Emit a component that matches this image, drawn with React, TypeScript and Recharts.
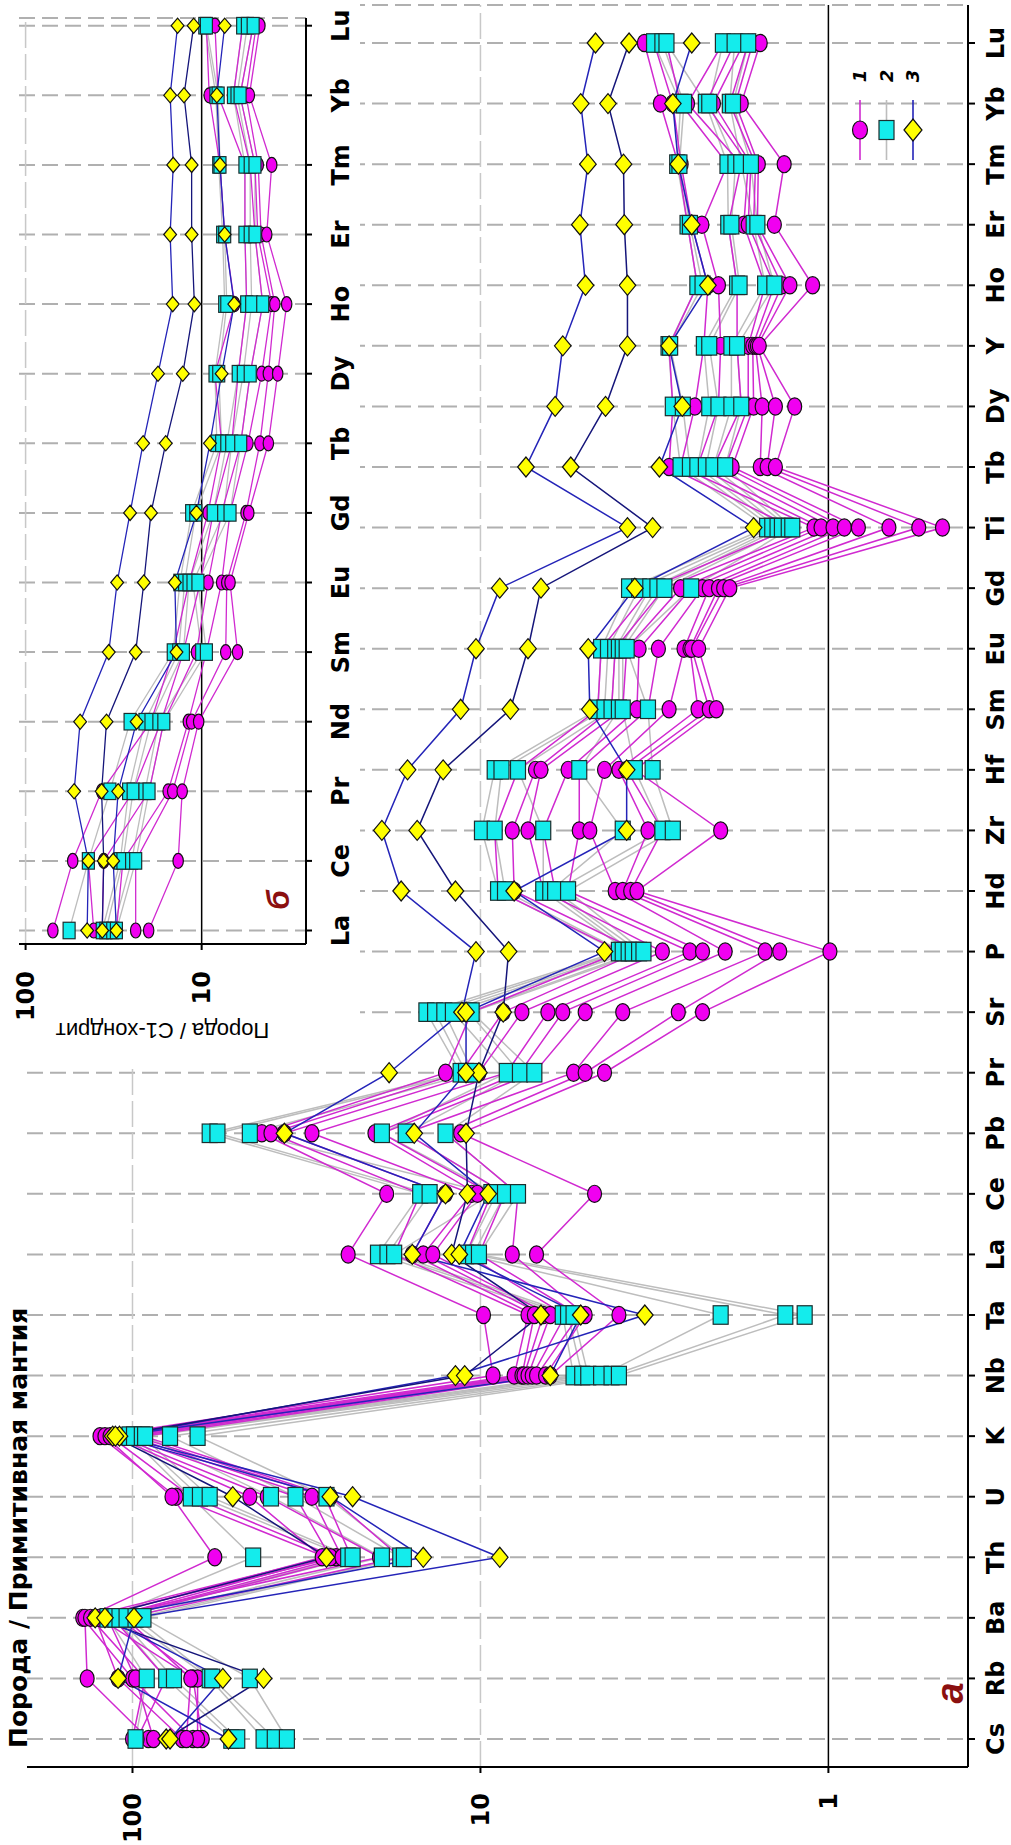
import React from 'react';
import { LineChart, Line, XAxis, YAxis, CartesianGrid, ReferenceLine, Legend } from 'recharts';

const FONT = '"DejaVu Sans", Verdana, sans-serif';
const FONT_PLAIN = '"Liberation Sans", Arial, Helvetica, sans-serif';

const mainElements = ['Cs','Rb','Ba','Th','U','K','Nb','Ta','La','Ce','Pb','Pr','Sr','P','Hd','Zr','Hf','Sm','Eu','Gd','Ti','Tb','Dy','Y','Ho','Er','Tm','Yb','Lu'];
const insetElements = ['La','Ce','Pr','Nd','Sm','Eu','Gd','Tb','Dy','Ho','Er','Tm','Yb','Lu'];
const mainValueTicks = [1, 10, 100];
const insetValueTicks = [10, 100];
const legendLabels = ['1', '2', '3'];

// group 1 (circles), primitive mantle normalized
const mainGroup1: number[][] = [
  [67, 100, 139, 27.7, 75, 124, 9.2, 9.8, 24, 18.6, 42.5, 12.6, 10.6, 3.95, 8.9, 9.1, 7.8, 4.6, 4.5, 3.25, 1.27, 2.87, 2.8, 2.87, 2.38, 2.54, 2.7, 3.04, 3.38],
  [90, 135, 137, 58, 77, 120, 8.0, 7.3, 17.7, 14.9, 40, 11.4, 8.6, 3.5, 8.0, 8.1, 6.95, 4.2, 4.1, 2.96, 1.1, 2.66, 2.42, 2.28, 2.22, 2.47, 2.65, 2.8, 3.17],
  [100, 92, 132, 26, 68, 116, 7.6, 7.0, 15.7, 12.6, 36.6, 10.1, 7.6, 3.0, 6.6, 7.3, 6.7, 3.9, 3.8, 2.66, 1.05, 2.38, 2.07, 2.04, 2.07, 2.31, 1.95, 2.66, 2.92],
  [72, 110, 128, 28.5, 46, 113, 7.5, 6.6, 14.6, 10.6, 30.5, 8.4, 6.4, 2.5, 6.1, 6.6, 5.6, 3.55, 3.5, 2.48, 0.97, 2.14, 1.78, 1.83, 1.83, 1.94, 1.78, 2.54, 2.01],
  [63, 67, 125, 19.5, 41, 110, 7.3, 6.3, 13.7, 10.2, 20.1, 7.7, 5.8, 2.3, 5.6, 5.2, 5.2, 3.3, 3.08, 2.3, 0.9, 1.98, 1.7, 1.7, 1.52, 1.75, 1.7, 2.25, 1.86],
  [87, 98, 118, 27, 34, 106, 7.1, 5.7, 11, 9.3, 19.2, 7.0, 5.0, 1.98, 4.1, 4.85, 4.4, 2.87, 2.6, 2.2, 0.82, 1.89, 1.64, 1.65, 1.43, 1.7, 1.67, 2.14, 1.75],
  [97, 80, 114, 25, 30.5, 102, 6.9, 5.2, 10.1, 8.5, 16.4, 5.4, 3.9, 1.52, 3.9, 3.3, 4.0, 2.37, 2.5, 2.07, 0.67, 1.57, 1.55, 1.62, 1.36, 1.64, 1.62, 1.92, 1.7],
  [65, 65, 110, 23.5, 28, 98, 6.5, 5.0, 8.1, 7.8, 12.6, 5.0, 2.7, 1.38, 3.7, 3.0, 3.8, 2.2, 2.47, 2.0, 0.55, 1.5, 1.42, 1.6, 1.29, 1.6, 1.59, 1.85, 1.65],
  [70, 68, 105, 17, 27, 93, 6.3, 4.0, 6.9, 4.7, 11.4, 4.4, 2.3, 0.99, 3.55, 2.04, 3.6, 2.1, 2.36, 1.92, 0.47, 1.42, 1.25, 1.58, 1.11, 1.43, 1.34, 1.78, 1.57],
];

// group 2 (squares)
const mainGroup2: number[][] = [
  [98, 91, 118, 45, 68, 102, 5.4, 5.8, 19.7, 14.9, 60, 11.4, 14.3, 4.0, 8.9, 9.9, 9.1, 4.6, 4.5, 3.74, 1.5, 2.66, 2.8, 2.88, 2.38, 2.54, 2.72, 2.66, 3.17],
  [52, 80, 112, 24, 64, 99, 5.1, 5.6, 18.5, 14, 57, 11, 13.5, 3.9, 8.5, 9.1, 8.7, 4.4, 4.3, 3.5, 1.45, 2.5, 2.62, 2.85, 2.3, 2.5, 2.68, 2.6, 3.0],
  [50, 76, 109, 23.3, 60, 94, 4.9, 5.4, 17.7, 9.3, 46, 10.5, 12.7, 3.75, 6.6, 6.6, 7.8, 4.2, 4.1, 3.25, 1.4, 2.38, 2.2, 2.28, 1.83, 1.94, 1.95, 2.25, 2.92],
  [42, 60, 104, 19.2, 40, 92, 4.5, 2.04, 11, 9, 19.2, 8.4, 12, 3.65, 6.3, 3.9, 5.2, 4.0, 4.0, 3.1, 1.36, 2.25, 2.07, 2.2, 1.8, 1.9, 1.85, 2.2, 2.01],
  [39, 59, 98, 17, 34, 78, 4.2, 1.33, 10.5, 8.5, 16.4, 7.7, 10.8, 3.5, 6.1, 3.0, 3.6, 3.9, 3.9, 2.96, 1.3, 2.14, 1.9, 1.9, 1.52, 1.64, 1.78, 1.92, 1.86],
  [36, 46, 93, 16.6, 27.7, 65, 4.0, 1.17, 10.1, 7.8, 12.6, 7.0, 10.6, 3.4, 5.6, 2.8, 3.2, 3.3, 3.8, 2.48, 1.27, 1.98, 1.78, 1.83, 1.43, 1.6, 1.67, 1.88, 1.7],
];

// group 3 (diamonds)
const mainGroup3: number[][] = [
  [53, 110, 99, 8.8, 23.3, 109, 11.8, 3.37, 15.7, 12.6, 36.6, 18.3, 11.3, 10.3, 16.9, 19.2, 16.2, 11.4, 10.3, 8.8, 3.78, 7.4, 6.1, 5.8, 4.99, 5.18, 4.91, 5.15, 4.67],
  [80, 42, 128, 27.7, 51.5, 114, 11.1, 6.7, 12.1, 10.9, 11.0, 10.1, 8.6, 8.3, 11.8, 15.2, 12.8, 8.2, 7.3, 6.7, 3.2, 5.5, 4.37, 3.78, 3.78, 3.86, 3.88, 4.3, 3.74],
  [78, 55, 120, 14.6, 27, 112, 6.3, 5.15, 11.5, 9.5, 15.5, 11.0, 11.0, 4.4, 8.0, 3.8, 3.8, 4.85, 4.9, 3.6, 1.64, 3.06, 2.63, 2.87, 2.22, 2.47, 2.7, 2.8, 2.47],
];

// inset (C1 chondrite normalized)
const insetGroup1: number[][] = [
  [70, 54, 37, 19.4, 14.5, 11.8, 9.2, 7.7, 8.4, 6.5, 7.4, 7.87, 9.06, 9.4],
  [41, 44, 24.5, 17, 12.7, 10.2, 8.6, 6.75, 6.2, 5.55, 5.68, 5.68, 8.06, 8.4],
  [36.7, 36, 19.9, 16.4, 10.7, 9.2, 7.7, 6.0, 5.3, 4.5, 4.98, 5.3, 6.6, 5.85],
  [30.5, 28, 15.5, 11.9, 9.4, 7.7, 6.9, 5.46, 4.56, 4.0, 4.8, 4.98, 6.05, 5.1],
  [23.7, 23.7, 14.6, 11.4, 7.3, 7.2, 5.6, 4.67, 4.18, 3.84, 4.6, 4.77, 5.6, 4.9],
  [20, 13.6, 12.9, 10.4, 6.25, 6.9, 5.4, 4.18, 3.7, 3.29, 4.27, 4.0, 5.36, 4.67],
];
const insetGroup2: number[][] = [
  [56.6, 44, 33.2, 25.5, 14.5, 13.3, 11.4, 8.2, 8.4, 7.4, 7.6, 8.0, 8.3, 9.6],
  [36.7, 29, 26, 21, 13.5, 12.5, 10.8, 7.7, 8.0, 7.2, 7.4, 7.87, 8.06, 9.4],
  [35, 28, 24.5, 19.4, 12.7, 11.8, 8.6, 7.2, 6.2, 5.55, 5.68, 5.68, 6.6, 5.85],
  [32, 25, 21, 17.5, 10, 11.2, 7.5, 6.75, 5.8, 5.2, 5.3, 5.3, 6.3, 5.5],
  [30.5, 23.7, 19.9, 16.4, 9.4, 10.5, 6.9, 6.0, 5.3, 4.5, 4.98, 4.98, 6.05, 5.1],
];
const insetGroup3: number[][] = [
  [44.7, 44, 53, 49, 33.7, 30.2, 25.5, 21.5, 17.7, 14.6, 15.1, 14.5, 15.1, 13.7],
  [36.7, 36, 37, 34.7, 23.7, 21.3, 19.4, 16.0, 12.8, 11.0, 11.4, 11.4, 12.6, 11.1],
  [30.5, 31.8, 29.8, 23.4, 13.9, 14.2, 10.7, 8.97, 7.7, 6.53, 7.4, 7.87, 8.2, 7.4],
];

const MAG_LINE = '#d02ad0';
const MAG_FILL = '#f000f0';
const GRAY_LINE = '#bdbdbd';
const CYAN_FILL = '#14ecec';
const BLUE_LINES = ['#2424b8', '#15157a', '#2424b8'];
const YELLOW = '#ffff00';
const DARKRED = '#8b1010';

function buildRows(elements: string[], groups: [string, number[][]][]) {
  return elements.map((el, i) => {
    const row: Record<string, any> = { el };
    groups.forEach(([prefix, samples]) => {
      samples.forEach((s, j) => {
        row[prefix + j] = s[i];
      });
    });
    return row;
  });
}

const mainRows = buildRows(mainElements, [['c', mainGroup1], ['s', mainGroup2], ['d', mainGroup3]]);
const insetRows = buildRows(insetElements, [['c', insetGroup1], ['s', insetGroup2], ['d', insetGroup3]]);

type Size = { ew: number; eh: number; sw: number; sh: number; dw: number; dh: number };
const MAIN_SIZE: Size = { ew: 8.6, eh: 7, sw: 18.5, sh: 15, dw: 10, dh: 8.3 };
const INSET_SIZE: Size = { ew: 7.5, eh: 5.2, sw: 16.5, sh: 12, dw: 7.6, dh: 6.4 };

const ellipseShape = (cx: number, cy: number, sz: Size, key?: string) => (
  <ellipse key={key} cx={cx} cy={cy} rx={sz.ew} ry={sz.eh} fill={MAG_FILL} stroke="#111" strokeWidth={1.2} />
);
const squareShape = (cx: number, cy: number, sz: Size, key?: string) => (
  <rect key={key} x={cx - sz.sw / 2} y={cy - sz.sh / 2} width={sz.sw} height={sz.sh} fill={CYAN_FILL} stroke="#1c2e2e" strokeWidth={1.2} />
);
const diamondShape = (cx: number, cy: number, sz: Size, key?: string) => (
  <polygon
    key={key}
    points={`${cx},${cy - sz.dh} ${cx + sz.dw},${cy} ${cx},${cy + sz.dh} ${cx - sz.dw},${cy}`}
    fill={YELLOW}
    stroke="#111"
    strokeWidth={1.2}
  />
);

const makeDot = (kind: 'c' | 's' | 'd', sz: Size, tag: string) => (p: any) => {
  if (p == null || p.cx == null || p.cy == null || p.value == null) return <g key={`${tag}-n-${p?.index}`} />;
  const key = `${tag}-${p.index}`;
  if (kind === 'c') return ellipseShape(p.cx, p.cy, sz, key);
  if (kind === 's') return squareShape(p.cx, p.cy, sz, key);
  return diamondShape(p.cx, p.cy, sz, key);
};

function renderSeries(groups: number[][][], sz: Size, width: number, tag: string) {
  const [g1, g2, g3] = groups;
  const lines: React.ReactNode[] = [];
  g2.forEach((_, j) =>
    lines.push(
      <Line key={`${tag}ls${j}`} dataKey={`s${j}`} stroke={GRAY_LINE} strokeWidth={width} dot={false} activeDot={false} isAnimationActive={false} legendType="none" />
    )
  );
  g1.forEach((_, j) =>
    lines.push(
      <Line key={`${tag}lc${j}`} dataKey={`c${j}`} stroke={MAG_LINE} strokeWidth={width} dot={false} activeDot={false} isAnimationActive={false} legendType="none" />
    )
  );
  g3.forEach((_, j) =>
    lines.push(
      <Line key={`${tag}ld${j}`} dataKey={`d${j}`} stroke={BLUE_LINES[j % BLUE_LINES.length]} strokeWidth={width} dot={false} activeDot={false} isAnimationActive={false} legendType="none" />
    )
  );
  g1.forEach((_, j) =>
    lines.push(
      <Line key={`${tag}pc${j}`} dataKey={`c${j}`} stroke="none" dot={makeDot('c', sz, `${tag}c${j}`)} activeDot={false} isAnimationActive={false} legendType="none" />
    )
  );
  g2.forEach((_, j) =>
    lines.push(
      <Line key={`${tag}ps${j}`} dataKey={`s${j}`} stroke="none" dot={makeDot('s', sz, `${tag}s${j}`)} activeDot={false} isAnimationActive={false} legendType="none" />
    )
  );
  g3.forEach((_, j) =>
    lines.push(
      <Line key={`${tag}pd${j}`} dataKey={`d${j}`} stroke="none" dot={makeDot('d', sz, `${tag}d${j}`)} activeDot={false} isAnimationActive={false} legendType="none" />
    )
  );
  return lines;
}

const axisTick = { fill: '#000', fontSize: 24, fontWeight: 'bold', fontFamily: FONT };

const mainTitleLabel = () => (
  <text x={97} y={27} fontFamily={FONT} fontWeight="bold" fontSize={25} fill="#000">
    Порода / Примитивная мантия
  </text>
);
const mainPanelLabel = () => (
  <text x={152} y={963} textAnchor="middle" fontFamily={FONT_PLAIN} fontStyle="italic" fontWeight="bold" fontSize={38} fill={DARKRED}>
    а
  </text>
);
const insetTitleLabel = () => (
  <text
    x={35}
    y={162.5}
    transform="rotate(-90 35 162.5)"
    textAnchor="middle"
    dominantBaseline="central"
    fontFamily={FONT_PLAIN}
    fontSize={22}
    fill="#000"
  >
    Порода / C1-хондрит
  </text>
);
const insetPanelLabel = () => (
  <text x={165} y={289} textAnchor="middle" fontFamily={FONT_PLAIN} fontStyle="italic" fontWeight="bold" fontSize={32} fill={DARKRED}>
    б
  </text>
);

const renderLegend = () => (
  <svg width={110} height={85}>
    {legendLabels.map((lab, i) => {
      const y = 15 + i * 26.5;
      const lineColor = i === 0 ? MAG_LINE : i === 1 ? GRAY_LINE : BLUE_LINES[0];
      const sz: Size = { ew: 9, eh: 7.5, sw: 19, sh: 15, dw: 11, dh: 9 };
      return (
        <g key={lab}>
          <line x1={5} x2={65} y1={y} y2={y} stroke={lineColor} strokeWidth={1.6} />
          {i === 0 ? ellipseShape(35, y, sz) : i === 1 ? squareShape(35, y, sz) : diamondShape(35, y, sz)}
          <text x={89} y={y + 6} textAnchor="middle" fontFamily={FONT} fontStyle="italic" fontWeight="bold" fontSize={18} fill="#000">
            {lab}
          </text>
        </g>
      );
    })}
  </svg>
);

export default function App() {
  return (
    <div style={{ position: 'absolute', left: 0, top: 0, width: 1011, height: 1845, overflow: 'hidden', background: '#fff' }}>
      <div
        style={{
          position: 'absolute',
          left: 0,
          top: 1845,
          width: 1845,
          height: 1011,
          transform: 'rotate(-90deg)',
          transformOrigin: '0 0',
        }}
      >
        <div style={{ position: 'absolute', left: 0, top: 0 }}>
          <LineChart width={1845} height={1011} data={mainRows} margin={{ top: 27, right: 5, bottom: 0, left: 0 }}>
            <CartesianGrid horizontal={false} stroke="#b0b0b0" strokeWidth={2} strokeDasharray="16 7" />
            <XAxis
              dataKey="el"
              scale="point"
              padding={{ left: 28, right: 38 }}
              height={43}
              tickSize={7}
              tickMargin={12}
              interval={0}
              axisLine={{ stroke: '#000', strokeWidth: 2 }}
              tickLine={{ stroke: '#000', strokeWidth: 2 }}
              tick={axisTick}
              label={mainPanelLabel}
            />
            <YAxis
              scale="log"
              domain={[0.397, 201]}
              allowDataOverflow
              ticks={mainValueTicks}
              width={78}
              tickSize={6}
              tickMargin={20}
              axisLine={{ stroke: '#000', strokeWidth: 2 }}
              tickLine={{ stroke: '#000', strokeWidth: 2 }}
              tick={axisTick}
              label={mainTitleLabel}
            />
            <ReferenceLine y={100} stroke="#c8c8c8" strokeWidth={1.5} strokeDasharray="26 6" />
            <ReferenceLine y={10} stroke="#c8c8c8" strokeWidth={1.5} strokeDasharray="26 6" />
            <ReferenceLine y={1} stroke="#000" strokeWidth={1.5} />
            {renderSeries([mainGroup1, mainGroup2, mainGroup3], MAIN_SIZE, 1.5, 'm')}
            <Legend
              layout="horizontal"
              verticalAlign="middle"
              align="center"
              wrapperStyle={{ left: 1680, top: 845, width: 110, height: 85 }}
              content={renderLegend}
            />
          </LineChart>
        </div>
        <div style={{ position: 'absolute', left: 780, top: 0, width: 1065, height: 360, background: '#fff' }}>
          <LineChart width={1065} height={360} data={insetRows} margin={{ top: 19, right: 18, bottom: 0, left: 0 }}>
            <CartesianGrid horizontal={false} stroke="#b0b0b0" strokeWidth={2} strokeDasharray="16 7" />
            <XAxis
              dataKey="el"
              scale="point"
              padding={{ left: 13.5, right: 7.7 }}
              height={54}
              tickSize={6}
              tickMargin={20}
              interval={0}
              axisLine={{ stroke: '#000', strokeWidth: 2 }}
              tickLine={{ stroke: '#000', strokeWidth: 2 }}
              tick={axisTick}
              label={insetPanelLabel}
            />
            <YAxis
              scale="log"
              domain={[2.555, 109]}
              allowDataOverflow
              ticks={insetValueTicks}
              width={121}
              tickSize={6}
              tickMargin={21}
              axisLine={{ stroke: '#000', strokeWidth: 2 }}
              tickLine={{ stroke: '#000', strokeWidth: 2 }}
              tick={axisTick}
              label={insetTitleLabel}
            />
            <ReferenceLine y={100} stroke="#c8c8c8" strokeWidth={1.5} strokeDasharray="26 6" />
            <ReferenceLine y={10} stroke="#000" strokeWidth={1.5} />
            {renderSeries([insetGroup1, insetGroup2, insetGroup3], INSET_SIZE, 1.3, 'i')}
          </LineChart>
        </div>
      </div>
    </div>
  );
}
